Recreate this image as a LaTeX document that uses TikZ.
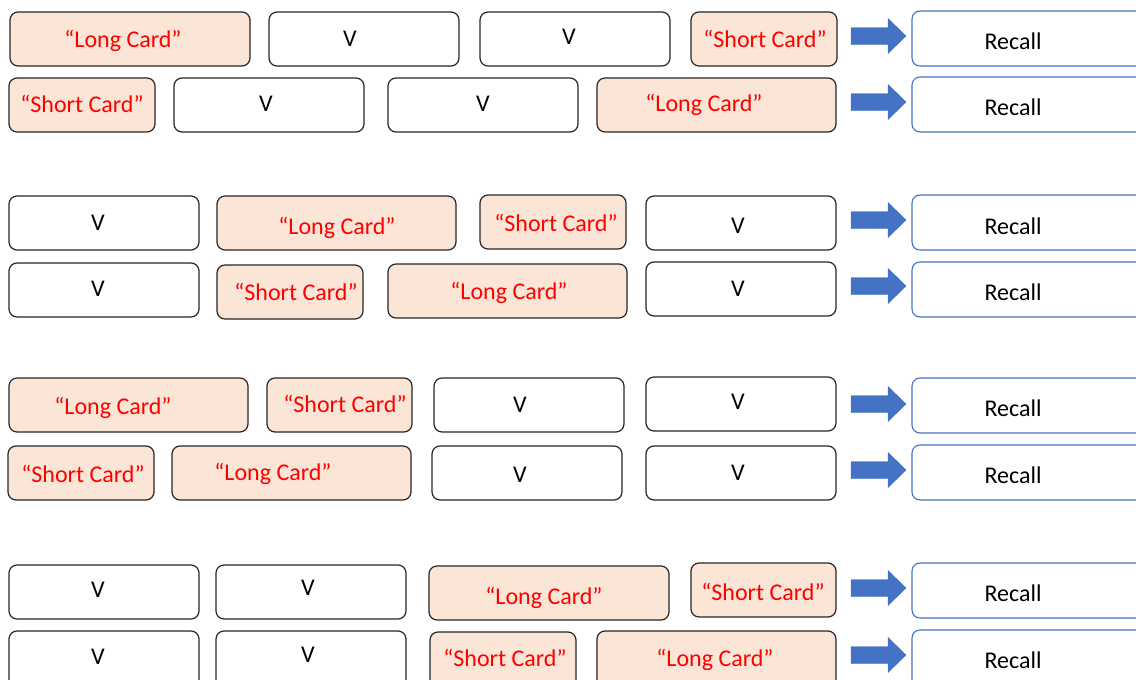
\documentclass[tikz,border=0pt]{standalone}
\usepackage{fontspec}
\setmainfont{Carlito}
\usetikzlibrary{fit}
\definecolor{peach}{HTML}{FBE5D6}
\definecolor{cardred}{HTML}{FF0000}
\definecolor{edgegray}{HTML}{262626}
\definecolor{officeblue}{HTML}{4472C4}
\tikzset{
  x=1pt, y=-1pt,
  cardbase/.style={rounded corners=8pt, inner sep=0pt, outer sep=0pt, line width=1.2pt, draw=edgegray},
  longcard/.style={cardbase, fill=peach},
  vcard/.style={cardbase, fill=white},
  recallbox/.style={rounded corners=8pt, inner sep=0pt, outer sep=0pt, line width=1.1pt, draw=officeblue, fill=white},
  redtxt/.style={anchor=base, text=cardred, inner sep=0pt, font=\fontsize{24}{28}\selectfont},
  blacktxt/.style={anchor=base, text=black, inner sep=0pt, font=\fontsize{24}{28}\selectfont},
  blockarrow/.style={fill=officeblue, draw=officeblue, line width=0.4pt},
}
\newcommand\LC[7]{\node[longcard, fit={(#2,#3) (#4,#5)}] (#1) {};
  \node[redtxt] (#1-t) at (#6,#7) {“Long Card”};}
\newcommand\SC[7]{\node[longcard, fit={(#2,#3) (#4,#5)}] (#1) {};
  \node[redtxt] (#1-t) at (#6,#7) {“Short Card”};}
\newcommand\VC[7]{\node[vcard, fit={(#2,#3) (#4,#5)}] (#1) {};
  \node[blacktxt] (#1-t) at (#6,#7) {V};}
\newcommand\RC[6]{\node[recallbox, fit={(#2,#3) (#4,#5)}] (#1) {};
  \node[blacktxt] (#1-t) at (1013,#6) {Recall};}
\newcommand\BA[2]{\coordinate (#1) at (878,#2);
  \fill[blockarrow, shift={(#1)}] (-27,-8.5) -- (10,-8.5) -- (10,-17.5) -- (28,0) -- (10,17.5) -- (10,8.5) -- (-27,8.5) -- cycle;}
\begin{document}
\begin{tikzpicture}
\useasboundingbox (0,0) rectangle (1136,680);
\clip (0,0) rectangle (1136,680);
% Row 1
\LC{r1a}{10}{12}{250}{66}{123}{47}
\VC{r1b}{269}{12}{459}{66}{350}{46}
\VC{r1c}{480}{12}{670}{66}{569}{45}
\SC{r1d}{691}{12}{837}{66}{765}{47}
\BA{a1}{36}
\RC{r1r}{912}{11}{1160}{66}{49}
% Row 2
\SC{r2a}{9}{78}{155}{132}{82}{112}
\VC{r2b}{174}{78}{364}{132}{266}{111}
\VC{r2c}{388}{78}{578}{132}{483}{111}
\LC{r2d}{597}{78}{836}{132}{704}{111}
\BA{a2}{102}
\RC{r2r}{912}{77}{1160}{132}{115}
% Row 3
\VC{r3a}{9}{196}{199}{250}{98}{230}
\LC{r3b}{217}{196}{456}{250}{337}{234}
\SC{r3c}{480}{195}{626}{249}{556}{231}
\VC{r3d}{646}{196}{836}{250}{738}{233}
\BA{a3}{220}
\RC{r3r}{912}{195}{1160}{250}{234}
% Row 4
\VC{r4a}{9}{263}{199}{317}{98}{296}
\SC{r4b}{217}{265}{363}{319}{296}{300}
\LC{r4c}{388}{264}{627}{318}{509}{299}
\VC{r4d}{646}{262}{836}{316}{738}{296}
\BA{a4}{286}
\RC{r4r}{912}{262}{1160}{317}{300}
% Row 5
\LC{r5a}{9}{378}{248}{432}{113}{414}
\SC{r5b}{267}{378}{412}{432}{345}{412}
\VC{r5c}{434}{378}{624}{432}{520}{412}
\VC{r5d}{646}{377}{836}{431}{738}{409}
\BA{a5}{404}
\RC{r5r}{912}{378}{1160}{433}{416}
% Row 6
\SC{r6a}{8}{446}{154}{500}{83}{482}
\LC{r6b}{172}{446}{411}{500}{273}{480}
\VC{r6c}{432}{446}{622}{500}{520}{482}
\VC{r6d}{646}{446}{836}{500}{738}{480}
\BA{a6}{470}
\RC{r6r}{912}{445}{1160}{500}{483}
% Row 7
\VC{r7a}{9}{565}{199}{619}{98}{597}
\VC{r7b}{216}{565}{406}{619}{308}{595}
\LC{r7c}{429}{566}{669}{620}{544}{604}
\SC{r7d}{691}{563}{836}{617}{763}{600}
\BA{a7}{588}
\RC{r7r}{912}{563}{1160}{618}{601}
% Row 8
\VC{r8a}{9}{631}{199}{690}{98}{664}
\VC{r8b}{216}{631}{406}{690}{308}{662}
\SC{r8c}{430}{632}{576}{690}{505}{666}
\LC{r8d}{597}{631}{836}{690}{715}{666}
\BA{a8}{655}
\RC{r8r}{912}{630}{1160}{690}{668}
\end{tikzpicture}
\end{document}
